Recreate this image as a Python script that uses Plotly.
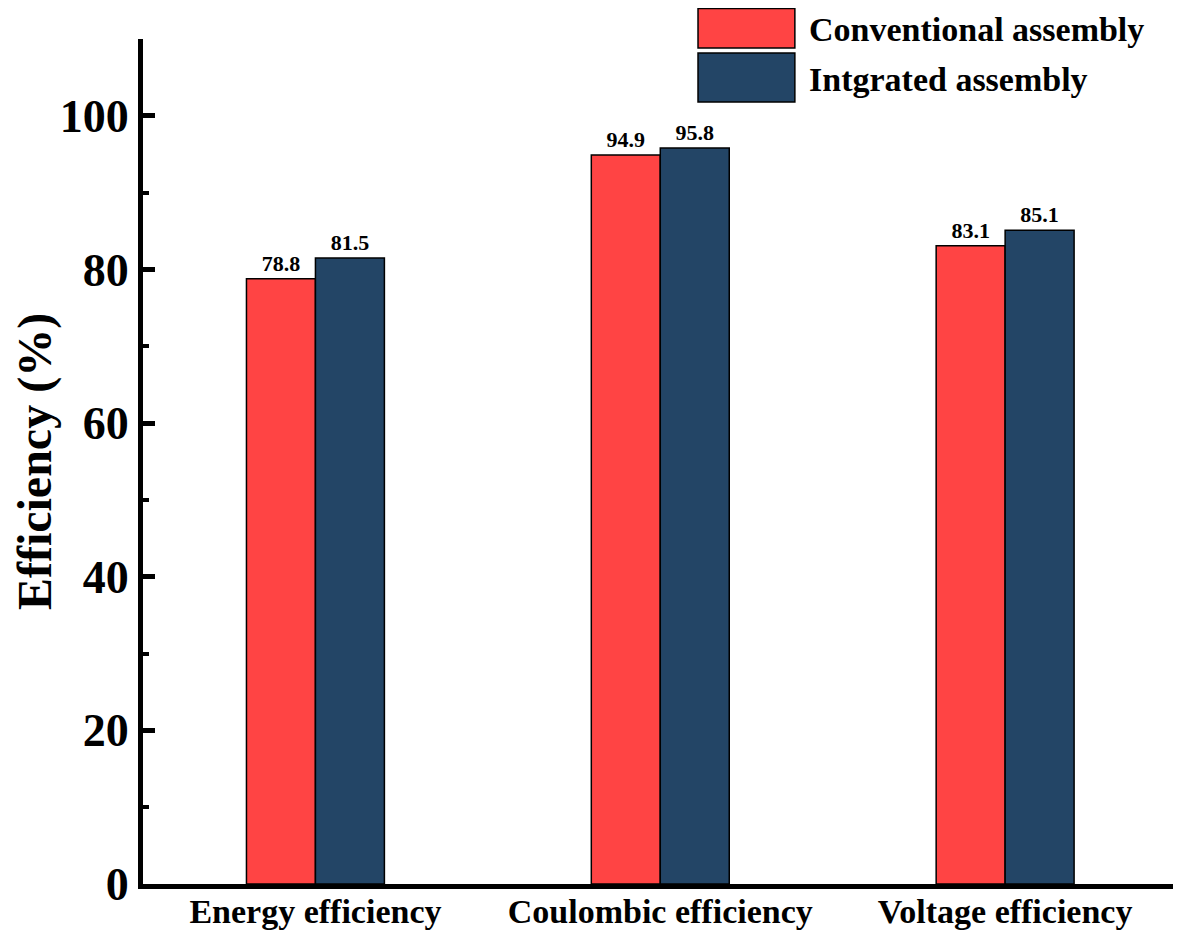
import plotly.graph_objects as go

categories = ["Energy efficiency", "Coulombic efficiency", "Voltage efficiency"]
conventional = [78.8, 94.9, 83.1]
integrated = [81.5, 95.8, 85.1]
series_names = ["Conventional assembly", "Intgrated assembly"]
colors = ["#FF4444", "#234566"]
y_ticks = [0, 20, 40, 60, 80, 100]

FONT = "Liberation Serif"

fig = go.Figure()
for name, vals, col in zip(series_names, [conventional, integrated], colors):
    fig.add_trace(go.Bar(
        x=categories, y=vals, name=name,
        marker=dict(color=col, line=dict(color="black", width=1.5)),
        text=[f"{v:.1f}" for v in vals], textposition="outside",
        textfont=dict(family=FONT, size=22, color="black", weight="bold"),
        cliponaxis=False, showlegend=False,
    ))

fig.update_layout(
    width=1173, height=925,
    paper_bgcolor="white", plot_bgcolor="white",
    margin=dict(l=135, r=0, t=31, b=49, autoexpand=False),
    barmode="group", bargap=0.6, bargroupgap=0,
    font=dict(family=FONT, color="black"),
    xaxis=dict(
        range=[-0.5, 2.51], showline=True, linewidth=5, linecolor="black",
        ticks="", showgrid=False, zeroline=False,
        tickfont=dict(family=FONT, size=34, weight="bold"),
        ticklabelstandoff=-7,
    ),
    yaxis=dict(
        range=[0, 110], showline=True, linewidth=5, linecolor="black",
        tickvals=y_ticks, ticks="inside", ticklen=12, tickwidth=5, tickcolor="black",
        minor=dict(dtick=10, ticks="inside", ticklen=6, tickwidth=4, tickcolor="black"),
        showgrid=False, zeroline=False,
        tickfont=dict(family=FONT, size=46, weight="bold"),
        title=dict(text="Efficiency (%)", font=dict(family=FONT, size=48, weight="bold"), standoff=6),
    ),
)

# custom legend (large swatches)
legend_boxes = [(1.0361, 0.9893), (0.9834, 0.9254)]
text_y = [1.0107, 0.9515]
for (y1, y0), ty, name, col in zip(legend_boxes, text_y, series_names, colors):
    fig.add_shape(type="rect", xref="paper", yref="paper",
                  x0=0.5347, x1=0.628, y0=y0, y1=y1,
                  fillcolor=col, line=dict(color="black", width=1.5))
    fig.add_annotation(xref="paper", yref="paper", x=0.6407, y=ty,
                       text=name, showarrow=False, xanchor="left", yanchor="middle",
                       borderpad=0,
                       font=dict(family=FONT, size=34, color="black", weight="bold"))

fig.write_html("out.html")
